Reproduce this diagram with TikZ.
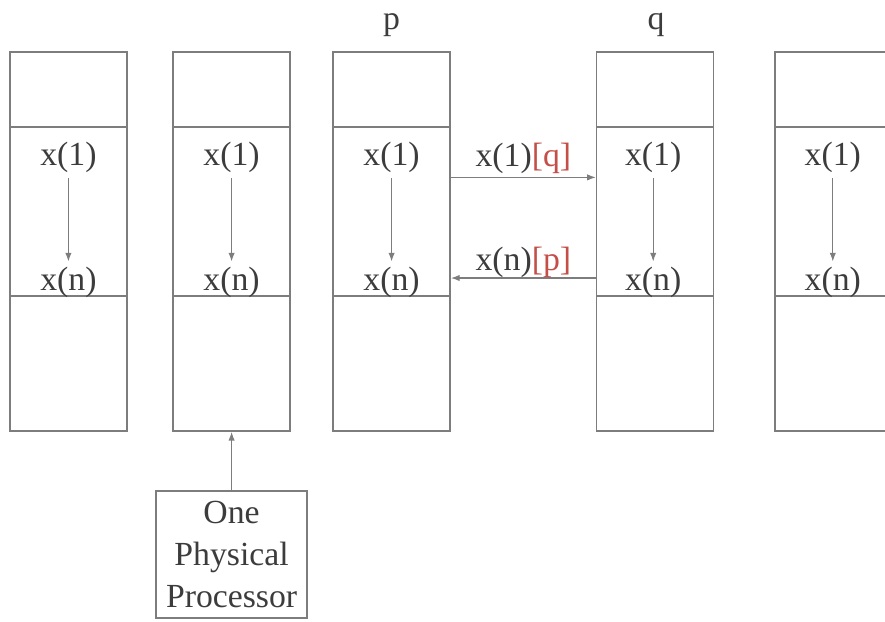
\documentclass[tikz,border=0pt]{standalone}
\usepackage{fontspec}
\setmainfont{Liberation Serif}
\usepackage{xcolor}
\usepackage{tikz}
\usetikzlibrary{arrows.meta, positioning, calc}

\definecolor{linegray}{RGB}{125,125,125}
\definecolor{textgray}{RGB}{60,60,60}
\definecolor{tagred}{RGB}{196,78,72}

\begin{document}
\begin{tikzpicture}[
    topcell/.style={rectangle, draw=linegray, line width=1.1pt, minimum width=2.925cm, minimum height=1.875cm, inner sep=0pt},
    midcell/.style={rectangle, draw=linegray, line width=1.1pt, minimum width=2.925cm, minimum height=4.225cm, inner sep=0pt},
    botcell/.style={rectangle, draw=linegray, line width=1.1pt, minimum width=2.925cm, minimum height=3.375cm, inner sep=0pt},
    val/.style={text=textgray, font=\fontsize{24}{28}\selectfont, inner sep=4pt},
    procbox/.style={rectangle, draw=linegray, line width=1.1pt, minimum width=3.775cm, minimum height=3.175cm, align=center, text=textgray, font=\fontsize{24}{30}\selectfont},
    arrow/.style={-{Latex[length=2.2mm, width=1.6mm]}, draw=linegray, line width=0.9pt}
]
\useasboundingbox (0,0) rectangle (22.125,-15.55);
\clip (0,0) rectangle (22.125,-15.55);

% virtual processor columns
\node[topcell] (c1top) at (1.71,-2.2375) {};
\node[midcell] (c1mid) at (1.71,-5.2875) {};
\node[botcell] (c1bot) at (1.71,-9.0875) {};
\node[topcell] (c2top) at (5.79,-2.2375) {};
\node[midcell] (c2mid) at (5.79,-5.2875) {};
\node[botcell] (c2bot) at (5.79,-9.0875) {};
\node[topcell] (c3top) at (9.79,-2.2375) {};
\node[midcell] (c3mid) at (9.79,-5.2875) {};
\node[botcell] (c3bot) at (9.79,-9.0875) {};
\node[topcell] (c4top) at (16.38,-2.2375) {};
\node[midcell] (c4mid) at (16.38,-5.2875) {};
\node[botcell] (c4bot) at (16.38,-9.0875) {};
\node[topcell] (c5top) at (20.84,-2.2375) {};
\node[midcell] (c5mid) at (20.84,-5.2875) {};
\node[botcell] (c5bot) at (20.84,-9.0875) {};

\node[val] (plabel) at (9.79,-0.62) {p};
\node[val] (qlabel) at (16.4,-0.62) {q};

% x(1) ... x(n) in every column
\node[val] (a1) at (1.71,-3.93) {x(1)};
\node[val] (b1) at (1.71,-7.07) {x(n)};
\node[val] (a2) at (5.79,-3.93) {x(1)};
\node[val] (b2) at (5.79,-7.07) {x(n)};
\node[val] (a3) at (9.79,-3.93) {x(1)};
\node[val] (b3) at (9.79,-7.07) {x(n)};
\node[val] (a4) at (16.33,-3.93) {x(1)};
\node[val] (b4) at (16.33,-7.07) {x(n)};
\node[val] (a5) at (20.82,-3.93) {x(1)};
\node[val] (b5) at (20.82,-7.07) {x(n)};

\draw[arrow] (a1) -- (b1);
\draw[arrow] (a2) -- (b2);
\draw[arrow] (a3) -- (b3);
\draw[arrow] (a4) -- (b4);
\draw[arrow] (a5) -- (b5);

% exchange between p and q
\draw[arrow] ($(c3mid.north east)!0.3!(c3mid.south east)$) -- node[above, val, inner sep=2pt] {x(1)\textcolor{tagred}{[q]}} ($(c4mid.north west)!0.3!(c4mid.south west)$);
\draw[arrow] ($(c4mid.north west)!0.89!(c4mid.south west)$) -- node[above, val, inner sep=0pt] {x(n)\textcolor{tagred}{[p]}} ($(c3mid.north east)!0.89!(c3mid.south east)$);

\node[procbox] (proc) at (5.79,-13.86) {One\\Physical\\Processor};
\draw[arrow] (proc) -- (c2bot);
\end{tikzpicture}
\end{document}
